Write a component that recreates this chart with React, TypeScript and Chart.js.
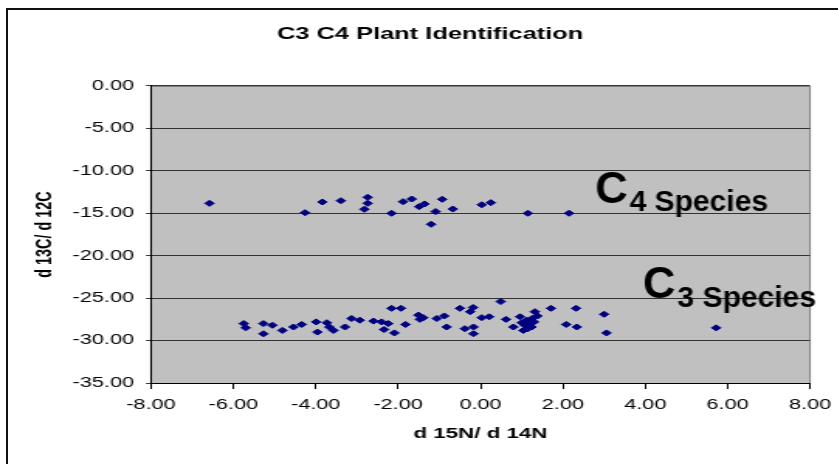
import React, { useEffect, useRef } from 'react';
import { Chart, registerables } from 'chart.js';

Chart.register(...registerables);

// ---------- data ----------
const c4X = [-6.58, -4.26, -3.84, -3.39, -2.74, -2.74, -2.82, -2.16, -1.88, -1.67, -1.49, -1.36, -1.2, -1.09, -0.93, -0.67, 0.03, 0.25, 1.15, 2.15];
const c4Y = [-13.83, -14.93, -13.67, -13.52, -13.12, -13.83, -14.53, -15.0, -13.63, -13.32, -14.22, -13.9, -16.3, -14.8, -13.35, -14.5, -14.0, -13.75, -15.0, -15.0];

const c3X = [-5.75, -5.7, -5.27, -5.27, -5.05, -4.81, -4.54, -4.34, -3.99, -3.96, -3.73, -3.67, -3.57, -3.29, -3.13, -2.93, -2.6, -2.4, -2.24, -2.34, -2.09, -2.16, -1.93, -1.82, -1.51, -1.47, -1.39, -1.06, -0.88, -0.82, -0.5, -0.18, -0.25, -0.38, -0.17, -0.17, 0.03, 0.21, 0.49, 0.62, 0.8, 0.96, 1.12, 1.2, 1.04, 1.32, 1.38, 1.24, 1.08, 1.3, 1.15, 1.0, 1.25, 1.71, 2.32, 2.08, 2.34, 3.0, 3.06, 5.72];
const c3Y = [-28.0, -28.5, -28.0, -29.2, -28.2, -28.8, -28.4, -28.1, -27.8, -29.0, -27.9, -28.4, -28.8, -28.4, -27.4, -27.6, -27.7, -27.8, -28.0, -28.7, -29.1, -26.2, -26.2, -28.1, -27.0, -27.5, -27.3, -27.4, -27.1, -28.4, -26.2, -26.1, -26.6, -28.6, -28.4, -29.2, -27.3, -27.2, -25.4, -27.5, -28.4, -27.2, -27.6, -28.0, -28.8, -26.6, -27.1, -28.4, -28.2, -27.8, -28.6, -27.9, -27.4, -26.2, -26.2, -28.1, -28.4, -26.9, -29.1, -28.5];

const xMin = -8;
const xMax = 8;
const xStep = 2;
const yMin = -35;
const yMax = 0;
const yStep = 5;

const titleText = 'C3 C4 Plant Identification';
const xTitle = 'd 15N/ d 14N';
const yTitle = 'd 13C/ d 12C';

// annotation labels (anchored in data units)
const labelBig = ['C', 'C'];
const labelSub = ['4 Species', '3 Species'];
const labelX = [2.78, 3.945];
const labelY = [-13.79, -24.98];

// ---------- layout ----------
const K = 1.55; // horizontal stretch of the whole picture
const CW = 555;
const CH = 464;
const FONT = "'Liberation Sans', Arial, sans-serif";

const toPts = (xs: number[], ys: number[]) => xs.map((x, i) => ({ x, y: ys[i] }));

const plotBg = {
  id: 'plotBg',
  beforeDraw(chart: any) {
    const { ctx, chartArea: a } = chart;
    ctx.save();
    ctx.fillStyle = '#C0C0C0';
    ctx.fillRect(a.left, a.top, a.right - a.left, a.bottom - a.top);
    ctx.strokeStyle = '#808080';
    ctx.lineWidth = 1;
    ctx.strokeRect(a.left, a.top + 0.5, a.right - a.left, a.bottom - a.top);
    ctx.restore();
  },
};

const labels = {
  id: 'speciesLabels',
  afterDraw(chart: any) {
    const { ctx, scales } = chart;
    labelBig.forEach((big, i) => {
      const px = scales.x.getPixelForValue(labelX[i]);
      const py = scales.y.getPixelForValue(labelY[i]);
      ctx.save();
      ctx.translate(px, py);
      ctx.scale(1 / K, 1);
      ctx.fillStyle = '#000';
      ctx.textBaseline = 'alphabetic';
      ctx.textAlign = 'left';
      ctx.font = `bold 45px ${FONT}`;
      ctx.fillText(big, 0, 0);
      const w = ctx.measureText(big).width;
      ctx.font = `bold 30px ${FONT}`;
      ctx.fillText(labelSub[i], w + 2, 8 + i);
      ctx.restore();
    });
  },
};

export default function App() {
  const ref = useRef<HTMLCanvasElement | null>(null);

  useEffect(() => {
    if (!ref.current) return;
    const chart = new Chart(ref.current, {
      type: 'scatter',
      data: {
        datasets: [
          {
            label: 'C4',
            data: toPts(c4X, c4Y),
            pointStyle: 'rectRot',
            pointRadius: 3,
            pointBorderWidth: 1,
            backgroundColor: '#000080',
            borderColor: '#000080',
          },
          {
            label: 'C3',
            data: toPts(c3X, c3Y),
            pointStyle: 'rectRot',
            pointRadius: 3,
            pointBorderWidth: 1,
            backgroundColor: '#000080',
            borderColor: '#000080',
          },
        ],
      },
      options: {
        animation: false,
        responsive: false,
        devicePixelRatio: 1,
        layout: { padding: { left: 0, right: 0, top: 0, bottom: 17.4 } },
        plugins: {
          legend: { display: false },
          tooltip: { enabled: false },
          title: {
            display: true,
            text: titleText,
            color: '#000',
            font: { family: FONT, size: 16.4, weight: 'bold' },
            padding: { top: 25, bottom: 41.3 },
          },
        },
        scales: {
          x: {
            type: 'linear',
            min: xMin,
            max: xMax,
            afterFit: (s: any) => {
              s.height = 63.6;
            },
            ticks: {
              stepSize: xStep,
              color: '#000',
              padding: 8,
              font: { family: FONT, size: 14 },
              callback: (v: any) => Number(v).toFixed(2),
            },
            grid: { drawOnChartArea: false, drawTicks: true, tickLength: 6, color: '#000' },
            border: { color: '#000', width: 1 },
            title: {
              display: true,
              text: xTitle,
              color: '#000',
              font: { family: FONT, size: 14.4, weight: 'bold' },
              padding: { top: 0, bottom: 4 },
            },
          },
          y: {
            type: 'linear',
            min: yMin,
            max: yMax,
            afterFit: (s: any) => {
              s.width = 97.4;
            },
            ticks: {
              stepSize: yStep,
              color: '#000',
              padding: 7.7,
              font: { family: FONT, size: 14 },
              callback: (v: any) => (Math.abs(Number(v)) < 1e-9 ? '0.00' : Number(v).toFixed(2)),
            },
            grid: { color: '#333', lineWidth: 1, drawTicks: true, tickLength: 3.2 },
            border: { color: '#000', width: 1 },
            title: {
              display: true,
              text: yTitle,
              color: '#000',
              font: { family: FONT, size: 14.4, weight: 'bold' },
              padding: { top: 20.4, bottom: 0 },
            },
          },
          // empty right-hand spacer so the title can be centred on the whole frame
          ySpacer: {
            type: 'linear',
            position: 'right',
            min: 0,
            max: 1,
            afterFit: (s: any) => {
              s.width = 32.4;
            },
            ticks: { display: false },
            grid: { display: false },
            border: { display: false },
            title: { display: false },
          },
        },
      },
      plugins: [plotBg, labels],
    });
    return () => chart.destroy();
  }, []);

  return (
    <>
      <div
        style={{
          position: 'fixed',
          left: 6,
          top: 8,
          width: 2000,
          height: 2000,
          borderLeft: '2px solid #111',
          borderTop: '2px solid #111',
        }}
      />
      <canvas
        ref={ref}
        width={CW}
        height={CH}
        style={{
          position: 'fixed',
          left: 0,
          top: 0,
          width: `${CW}px`,
          height: `${CH}px`,
          transform: `scaleX(${K})`,
          transformOrigin: '0 0',
        }}
      />
    </>
  );
}
